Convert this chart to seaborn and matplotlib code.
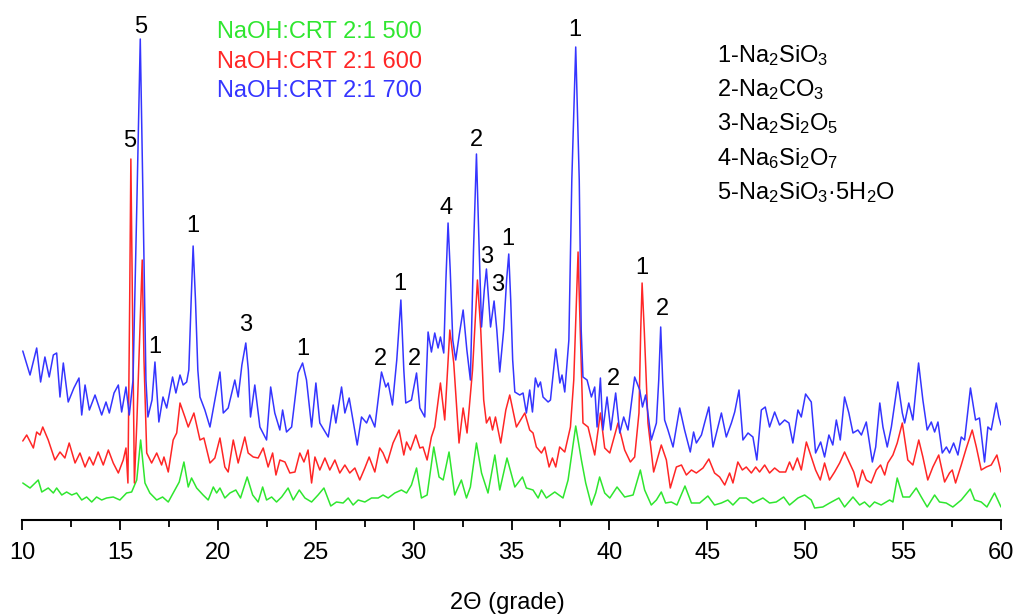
import numpy as np
import pandas as pd
import matplotlib
matplotlib.use("Agg")
import matplotlib.pyplot as plt
import seaborn as sns

# ---------------- data (arbitrary intensity units) ----------------
x_700 = [10.04, 10.41, 10.75, 10.95, 11.17, 11.39, 11.60, 11.77, 11.94, 12.11, 12.36, 12.65, 12.91, 13.05,
         13.22, 13.44, 13.73, 14.07, 14.29, 14.46, 14.70, 14.92, 15.09, 15.31, 15.48, 15.67, 15.87, 16.04,
         16.18, 16.33, 16.43, 16.64, 16.79, 16.99, 17.20, 17.39, 17.69, 17.86, 18.07, 18.23, 18.41, 18.52,
         18.64, 18.74, 18.86, 18.98, 19.09, 19.34, 19.60, 19.85, 20.11, 20.28, 20.53, 20.87, 21.04, 21.23,
         21.43, 21.56, 21.67, 21.89, 22.15, 22.49, 22.70, 22.91, 23.17, 23.31, 23.51, 23.77, 24.10, 24.33,
         24.53, 24.79, 25.01, 25.21, 25.64, 25.89, 26.03, 26.32, 26.49, 26.71, 26.90, 27.12, 27.34, 27.60,
         27.76, 28.02, 28.36, 28.58, 28.70, 28.92, 29.14, 29.35, 29.50, 29.60, 29.89, 30.15, 30.32, 30.57,
         30.74, 30.91, 31.08, 31.25, 31.37, 31.54, 31.65, 31.76, 31.87, 32.00, 32.15, 32.33, 32.53, 32.72,
         32.90, 33.06, 33.21, 33.35, 33.47, 33.61, 33.72, 33.83, 33.93, 34.11, 34.25, 34.40, 34.60, 34.75,
         34.86, 34.96, 35.06, 35.17, 35.42, 35.59, 35.76, 35.93, 36.07, 36.22, 36.36, 36.48, 36.61, 36.87,
         36.99, 37.26, 37.47, 37.58, 37.72, 37.93, 38.08, 38.28, 38.46, 38.56, 38.65, 38.86, 39.08, 39.25,
         39.37, 39.54, 39.67, 39.88, 40.07, 40.32, 40.53, 40.73, 40.95, 41.29, 41.55, 41.69, 41.85, 42.14,
         42.40, 42.52, 42.62, 42.72, 42.82, 42.99, 43.25, 43.59, 43.84, 44.13, 44.30, 44.44, 44.70, 44.86,
         45.08, 45.29, 45.54, 45.72, 45.97, 46.23, 46.40, 46.62, 46.82, 47.08, 47.33, 47.53, 47.76, 47.96,
         48.18, 48.44, 48.69, 48.95, 49.17, 49.37, 49.63, 49.80, 50.02, 50.31, 50.53, 50.79, 50.99, 51.21,
         51.41, 51.59, 51.79, 52.01, 52.23, 52.44, 52.69, 52.87, 53.12, 53.43, 53.60, 53.81, 53.97, 54.19,
         54.40, 54.73, 54.96, 55.08, 55.29, 55.50, 55.79, 56.01, 56.23, 56.44, 56.61, 56.78, 57.00, 57.21,
         57.37, 57.58, 57.80, 57.97, 58.14, 58.44, 58.70, 58.90, 59.16, 59.33, 59.50, 59.76, 59.89, 60.00]
y_700 = [169, 145, 172, 138, 163, 143, 165, 167, 123, 157, 118, 132, 142, 105,
         135, 110, 125, 105, 118, 107, 127, 135, 108, 133, 105, 140, 320, 481,
         320, 140, 103, 120, 158, 98, 123, 112, 143, 127, 145, 135, 138, 150,
         220, 274, 220, 150, 123, 110, 93, 120, 148, 107, 112, 140, 123, 155,
         177, 150, 103, 135, 93, 80, 133, 107, 90, 110, 88, 93, 147, 157,
         140, 93, 137, 97, 83, 115, 97, 133, 107, 122, 100, 75, 103, 97,
         105, 93, 148, 133, 137, 115, 160, 220, 150, 117, 120, 147, 112, 103,
         188, 168, 187, 172, 183, 167, 240, 297, 250, 180, 160, 185, 210, 170,
         140, 270, 366, 270, 193, 230, 251, 220, 193, 219, 190, 148, 190, 240,
         266, 220, 160, 128, 125, 127, 107, 130, 108, 142, 133, 138, 123, 118,
         120, 171, 137, 145, 128, 180, 340, 473, 340, 190, 143, 140, 123, 133,
         93, 142, 90, 123, 90, 127, 87, 103, 90, 143, 130, 113, 125, 80,
         97, 140, 193, 140, 100, 90, 73, 112, 90, 68, 88, 77, 85, 97,
         113, 73, 93, 107, 83, 97, 108, 130, 80, 87, 83, 60, 110, 113,
         93, 108, 95, 100, 97, 77, 110, 103, 126, 118, 67, 78, 63, 85,
         75, 100, 80, 123, 107, 87, 90, 85, 98, 58, 73, 117, 93, 73,
         93, 138, 107, 97, 117, 100, 157, 120, 90, 98, 88, 98, 67, 73,
         67, 77, 65, 83, 80, 132, 100, 102, 58, 93, 90, 117, 103, 95]

x_600 = [10.04, 10.24, 10.58, 10.75, 10.92, 11.06, 11.34, 11.68, 11.94, 12.19, 12.41, 12.71, 12.96, 13.22,
         13.44, 13.64, 13.89, 14.15, 14.41, 14.66, 14.92, 15.17, 15.31, 15.41, 15.50, 15.56, 15.64, 15.74,
         15.87, 16.02, 16.14, 16.23, 16.37, 16.62, 16.88, 17.13, 17.25, 17.47, 17.72, 17.90, 18.07, 18.32,
         18.49, 18.78, 19.09, 19.29, 19.60, 19.85, 20.11, 20.36, 20.53, 20.79, 21.04, 21.38, 21.55, 21.81,
         22.06, 22.32, 22.57, 22.80, 22.97, 23.17, 23.43, 23.68, 23.94, 24.19, 24.40, 24.61, 24.79, 24.96,
         25.21, 25.47, 25.72, 25.98, 26.23, 26.49, 26.74, 27.00, 27.25, 27.51, 27.73, 28.02, 28.27, 28.44,
         28.65, 28.95, 29.26, 29.50, 29.64, 29.84, 30.11, 30.32, 30.48, 30.69, 30.91, 31.08, 31.37, 31.59,
         31.85, 32.05, 32.32, 32.53, 32.73, 33.01, 33.26, 33.43, 33.58, 33.72, 33.89, 34.03, 34.18, 34.45,
         34.71, 34.91, 35.25, 35.68, 35.93, 36.10, 36.27, 36.53, 36.70, 36.92, 37.09, 37.26, 37.46, 37.72,
         38.01, 38.18, 38.40, 38.51, 38.65, 38.91, 39.25, 39.54, 39.76, 40.02, 40.44, 40.78, 41.07, 41.29,
         41.51, 41.60, 41.67, 41.78, 41.97, 42.26, 42.65, 42.91, 43.11, 43.42, 43.68, 43.93, 44.19, 44.44,
         44.78, 45.08, 45.37, 45.63, 45.89, 46.14, 46.31, 46.56, 46.79, 46.99, 47.25, 47.47, 47.67, 47.93,
         48.18, 48.44, 48.69, 49.00, 49.20, 49.37, 49.60, 49.80, 50.06, 50.31, 50.53, 50.77, 50.99, 51.24,
         51.50, 51.76, 52.01, 52.27, 52.48, 52.69, 52.92, 53.12, 53.37, 53.63, 53.85, 54.06, 54.22, 54.48,
         54.70, 54.96, 55.24, 55.50, 55.80, 56.01, 56.26, 56.52, 56.82, 57.12, 57.37, 57.51, 57.68, 57.97,
         58.23, 58.53, 58.74, 58.99, 59.25, 59.50, 59.79, 60.00]
y_600 = [79, 85, 72, 88, 85, 93, 80, 60, 68, 62, 77, 57, 67, 53,
         63, 55, 68, 55, 70, 57, 47, 60, 72, 37, 220, 361, 220, 37,
         100, 190, 260, 160, 67, 57, 67, 55, 63, 48, 80, 87, 117, 103,
         93, 107, 80, 82, 57, 62, 82, 53, 48, 80, 57, 83, 67, 63,
         62, 72, 53, 67, 45, 60, 58, 47, 48, 67, 58, 70, 37, 63,
         50, 62, 50, 60, 47, 55, 47, 52, 40, 52, 63, 48, 72, 67,
         57, 77, 90, 65, 78, 70, 85, 72, 73, 60, 83, 93, 137, 100,
         190, 157, 77, 112, 87, 150, 240, 190, 120, 97, 103, 90, 103, 77,
         110, 125, 93, 107, 90, 87, 73, 67, 73, 53, 62, 53, 73, 68,
         93, 140, 268, 190, 97, 93, 65, 107, 72, 67, 97, 70, 58, 63,
         107, 190, 237, 190, 97, 48, 75, 60, 32, 53, 55, 45, 50, 47,
         52, 61, 47, 43, 35, 47, 37, 58, 50, 53, 47, 53, 48, 55,
         47, 52, 48, 48, 58, 50, 62, 50, 78, 63, 50, 40, 57, 40,
         48, 57, 68, 57, 48, 33, 50, 40, 37, 50, 55, 45, 57, 65,
         77, 97, 60, 55, 80, 63, 40, 53, 65, 38, 47, 50, 37, 55,
         72, 90, 73, 50, 53, 55, 65, 48]

x_500 = [10.04, 10.41, 10.83, 11.01, 11.34, 11.60, 11.77, 12.03, 12.28, 12.54, 12.79, 13.05, 13.30, 13.56,
         13.81, 14.07, 14.32, 14.66, 15.00, 15.34, 15.60, 15.86, 16.06, 16.28, 16.53, 16.88, 17.18, 17.47,
         17.72, 18.03, 18.27, 18.49, 18.66, 18.92, 19.25, 19.51, 19.77, 19.94, 20.11, 20.36, 20.62, 20.92,
         21.16, 21.50, 21.78, 22.06, 22.29, 22.49, 22.75, 23.00, 23.26, 23.59, 23.85, 24.16, 24.45, 24.79,
         25.12, 25.42, 25.77, 26.06, 26.40, 26.66, 26.91, 27.17, 27.51, 27.85, 28.19, 28.44, 28.70, 29.04,
         29.38, 29.64, 29.89, 30.15, 30.40, 30.69, 31.03, 31.30, 31.51, 31.81, 32.10, 32.44, 32.70, 32.90,
         33.21, 33.47, 33.80, 34.15, 34.40, 34.77, 35.17, 35.56, 35.76, 36.10, 36.36, 36.53, 36.78, 37.21,
         37.63, 37.89, 38.28, 38.57, 38.79, 39.08, 39.30, 39.50, 39.76, 40.02, 40.39, 40.78, 41.21, 41.58,
         41.80, 42.14, 42.40, 42.65, 42.87, 43.16, 43.45, 43.86, 44.19, 44.61, 45.03, 45.37, 45.72, 46.05,
         46.31, 46.65, 46.99, 47.33, 47.84, 48.18, 48.52, 48.90, 49.20, 49.63, 49.97, 50.31, 50.48, 50.90,
         51.25, 51.72, 52.01, 52.44, 52.78, 53.03, 53.29, 53.54, 53.88, 54.31, 54.48, 54.70, 54.99, 55.33,
         55.67, 55.93, 56.23, 56.61, 56.86, 57.20, 57.54, 57.97, 58.43, 58.65, 58.99, 59.28, 59.67, 60.00]
y_500 = [37, 32, 40, 28, 32, 27, 32, 25, 28, 25, 27, 20, 23, 18,
         23, 20, 22, 23, 20, 27, 28, 40, 80, 37, 27, 20, 23, 18,
         27, 38, 58, 33, 42, 32, 25, 20, 33, 27, 32, 22, 27, 30,
         22, 43, 25, 18, 33, 20, 23, 18, 23, 32, 20, 30, 22, 18,
         25, 32, 14, 18, 17, 22, 15, 20, 18, 22, 22, 25, 22, 27,
         30, 27, 35, 52, 22, 25, 73, 43, 40, 68, 25, 40, 22, 33,
         77, 47, 27, 65, 30, 62, 33, 43, 32, 30, 22, 30, 22, 28,
         22, 40, 94, 60, 37, 15, 27, 43, 27, 22, 33, 23, 25, 50,
         30, 15, 20, 28, 17, 18, 15, 34, 17, 17, 24, 15, 17, 20,
         15, 22, 22, 17, 22, 17, 18, 23, 15, 22, 25, 20, 12, 13,
         17, 22, 13, 23, 15, 18, 13, 18, 15, 20, 18, 42, 23, 23,
         32, 23, 13, 25, 18, 17, 13, 20, 31, 20, 18, 13, 27, 13]

series_names = ["NaOH:CRT 2:1 500", "NaOH:CRT 2:1 600", "NaOH:CRT 2:1 700"]
series_colors = ["#2fe62f", "#ff2626", "#3535ff"]

# peak phase labels
peak_text = ["5", "5", "1", "1", "3", "1", "2", "1", "2", "4", "2", "3", "3", "1", "1", "2", "1", "2"]
peak_x = [16.04, 15.48, 16.79, 18.74, 21.42, 24.33, 28.33, 29.30, 30.06, 31.68, 33.21, 33.72, 34.28,
          34.82, 38.24, 40.23, 41.68, 42.69]
peak_y = [487, 373, 167, 288, 189, 165, 155, 230, 155, 306, 374, 257, 229, 275, 484, 135, 246, 205]

phase_labels = ["1-Na$_2$SiO$_3$", "2-Na$_2$CO$_3$", "3-Na$_2$Si$_2$O$_5$",
                "4-Na$_6$Si$_2$O$_7$", "5-Na$_2$SiO$_3$\u00b75H$_2$O"]

x_ticks = [10, 15, 20, 25, 30, 35, 40, 45, 50, 55, 60]
x_label = "2\u0398 (grade)"

# ---------------- plotting ----------------
sns.set_theme(style="white")
plt.rcParams["font.family"] = ["Liberation Sans", "DejaVu Sans"]
plt.rcParams["mathtext.fontset"] = "custom"
plt.rcParams["mathtext.rm"] = "Liberation Sans"
plt.rcParams["mathtext.it"] = "Liberation Sans:italic"
plt.rcParams["mathtext.default"] = "regular"

FS = 17

frames = []
for name, xs, ys in zip(series_names, [x_500, x_600, x_700], [y_500, y_600, y_700]):
    frames.append(pd.DataFrame({"two_theta": xs, "intensity": ys, "sample": name}))
df = pd.concat(frames, ignore_index=True)

W, H = 1017, 615
fig = plt.figure(figsize=(W / 100, H / 100), dpi=100)
ax = fig.add_axes([22 / W, (H - 520) / H, (1001 - 22) / W, 520 / H])

sns.lineplot(data=df, x="two_theta", y="intensity", hue="sample", hue_order=series_names,
             palette=series_colors, estimator=None, sort=False, legend=False, lw=1.1, ax=ax)

ax.set_xlim(10, 60)
ax.set_ylim(0, 520)
for s in ["left", "top", "right"]:
    ax.spines[s].set_visible(False)
ax.spines["bottom"].set_linewidth(1.5)
ax.spines["bottom"].set_color("black")
ax.set_yticks([])
ax.set_xticks(x_ticks)
ax.set_xticks([t + 2.5 for t in x_ticks[:-1]], minor=True)
ax.tick_params(axis="x", which="major", direction="out", length=7.5, width=1.3, colors="black",
               labelsize=FS, pad=8.5, bottom=True)
ax.tick_params(axis="x", which="minor", direction="out", length=5, width=1.3, colors="black", bottom=True)
ax.set_xlabel("")
ax.set_ylabel("")
ax.patch.set_alpha(0)

for t, px, py in zip(peak_text, peak_x, peak_y):
    ax.text(px, py, t, ha="center", va="baseline", fontsize=FS, color="black")

# sample legend (coloured text)
for i, (name, col) in enumerate(zip(series_names, series_colors)):
    fig.text(217 / W, 1 - (38.3 + 29.2 * i) / H, name, color=col, fontsize=FS,
             ha="left", va="baseline")

# phase legend
for i, lab in enumerate(phase_labels):
    fig.text(717 / W, 1 - (61.7 + 34.4 * i) / H, lab, color="black", fontsize=FS,
             ha="left", va="baseline")

fig.text(507 / W, 1 - 609 / H, x_label, fontsize=FS, ha="center", va="baseline", color="black")

fig.savefig("out.png", dpi=100)
